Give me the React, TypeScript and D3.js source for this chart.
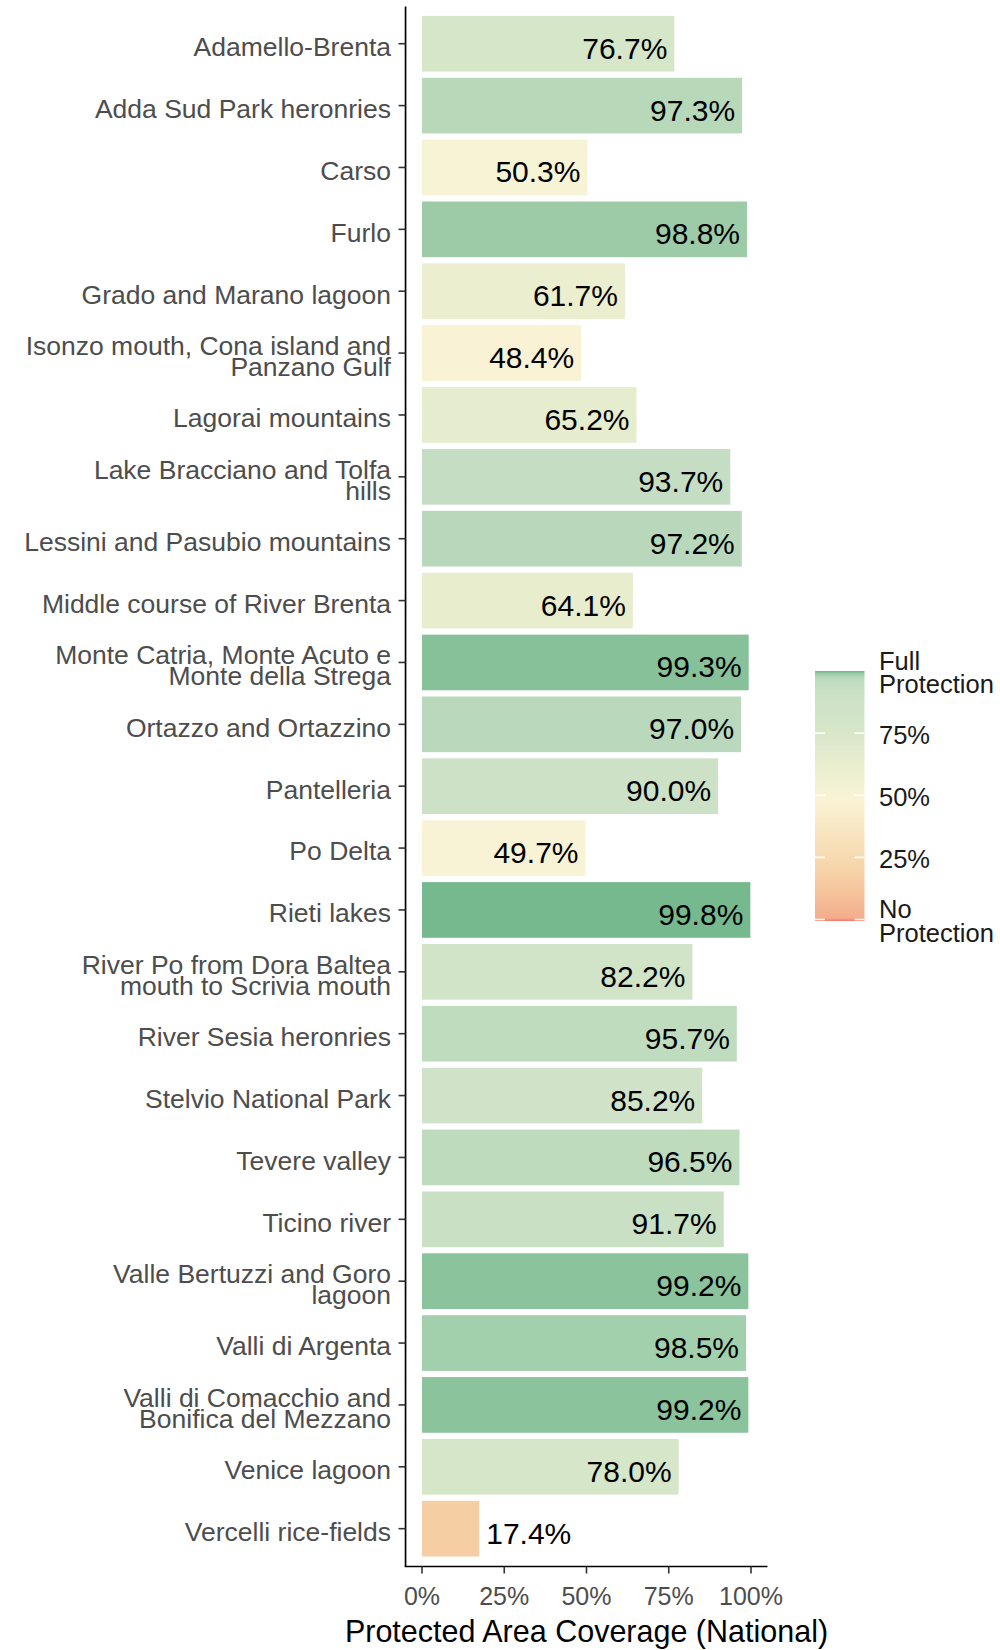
import React from "react";
import * as d3 from "d3";

const categories: string[] = [
  "Adamello-Brenta",
  "Adda Sud Park heronries",
  "Carso",
  "Furlo",
  "Grado and Marano lagoon",
  "Isonzo mouth, Cona island and\nPanzano Gulf",
  "Lagorai mountains",
  "Lake Bracciano and Tolfa\nhills",
  "Lessini and Pasubio mountains",
  "Middle course of River Brenta",
  "Monte Catria, Monte Acuto e\nMonte della Strega",
  "Ortazzo and Ortazzino",
  "Pantelleria",
  "Po Delta",
  "Rieti lakes",
  "River Po from Dora Baltea\nmouth to Scrivia mouth",
  "River Sesia heronries",
  "Stelvio National Park",
  "Tevere valley",
  "Ticino river",
  "Valle Bertuzzi and Goro\nlagoon",
  "Valli di Argenta",
  "Valli di Comacchio and\nBonifica del Mezzano",
  "Venice lagoon",
  "Vercelli rice-fields",
];

const coverage: number[] = [
  0.767, 0.973, 0.503, 0.988, 0.617, 0.484, 0.652, 0.937, 0.972, 0.641,
  0.993, 0.97, 0.9, 0.497, 0.998, 0.822, 0.957, 0.852, 0.965, 0.917,
  0.992, 0.985, 0.992, 0.78, 0.174,
];

const xTicks: number[] = [0, 0.25, 0.5, 0.75, 1];
const legendTicks: number[] = [0, 0.25, 0.5, 0.75, 1];
const legendLabels: string[] = ["No\nProtection", "25%", "50%", "75%", "Full\nProtection"];

const colorStops: number[] = [0, 0.012, 0.174, 0.25, 0.49, 0.5, 0.62, 0.65, 0.767, 0.85, 0.9, 0.937, 0.965, 0.973, 0.985, 0.988, 0.992, 0.998, 1.0];
const colorRange: string[] = [
  "#F8766D", "#F4AD8C", "#F5CFA3", "#F7D9B1", "#F9F3D5", "#F7F3D5", "#EBEECF", "#E6ECCE", "#D6E6C9",
  "#D0E3C8", "#CCE1C6", "#C5DEC3", "#BEDBBE", "#B8D8BA", "#A3D0AC", "#9DCBA8", "#8AC39C", "#77B98F", "#5AAA76",
];

const FONT = "'Liberation Sans', Arial, Helvetica, sans-serif";

export default function App() {
  const W = 1000;
  const H = 1650;

  const x = d3.scaleLinear().domain([-0.05, 1.05]).range([405.55, 767.45]);
  const y = d3
    .scaleBand<string>()
    .domain(categories)
    .range([6.6, 1565.8])
    .paddingInner(0.1)
    .paddingOuter(0.15);
  const color = d3.scaleLinear<string>().domain(colorStops).range(colorRange).interpolate(d3.interpolateRgb);
  const fmt = d3.format(".1%");

  const axisX = x.range()[0];
  const axisY = y.range()[1] + 0.7;
  const band = y.bandwidth();

  // legend
  const legY = d3.scaleLinear().domain([0, 1]).range([919.5, 671]);
  const legX0 = 815;
  const legW = 49.5;
  const gradStops = d3.range(0, 401).map((i) => i / 400);

  const lineH = 21;

  return (
    <svg
      width={W}
      height={H}
      viewBox={`0 0 ${W} ${H}`}
      style={{ position: "absolute", left: 0, top: 0, display: "block", background: "#fff" }}
      fontFamily={FONT}
    >
      <defs>
        <linearGradient id="legGrad" x1="0" y1="1" x2="0" y2="0">
          {gradStops.map((t) => (
            <stop key={t} offset={t} stopColor={color(t)} />
          ))}
        </linearGradient>
      </defs>
      <rect x={0} y={0} width={W} height={H} fill="#ffffff" />

      {/* bars */}
      {categories.map((c, i) => (
        <rect
          key={c}
          x={x(0)}
          y={y(c)!}
          width={x(coverage[i]) - x(0)}
          height={band}
          fill={color(coverage[i])}
        />
      ))}

      {/* value labels */}
      {categories.map((c, i) => {
        const v = coverage[i];
        const cy = y(c)! + band / 2;
        const inside = v >= 0.3;
        return (
          <text
            key={"v" + c}
            x={inside ? x(v) - 7 : x(v) + 7}
            y={cy + 15}
            textAnchor={inside ? "end" : "start"}
            fontSize={30}
            fill="#000000"
          >
            {fmt(v)}
          </text>
        );
      })}

      {/* y axis */}
      <line x1={axisX} x2={axisX} y1={y.range()[0]} y2={axisY} stroke="#000" strokeWidth={1.7} />
      {categories.map((c) => {
        const cy = y(c)! + band / 2;
        const lines = c.split("\n");
        const n = lines.length;
        return (
          <g key={"t" + c}>
            <line x1={axisX - 7} x2={axisX} y1={cy} y2={cy} stroke="#333333" strokeWidth={1.6} />
            <text textAnchor="end" fontSize={26.5} fill="#4D4D4D">
              {lines.map((ln, k) => (
                <tspan key={k} x={391} y={cy + 12.4 + (k - (n - 1) / 2) * lineH}>
                  {ln}
                </tspan>
              ))}
            </text>
          </g>
        );
      })}

      {/* x axis */}
      <line x1={axisX - 0.8} x2={x.range()[1]} y1={axisY} y2={axisY} stroke="#000" strokeWidth={1.7} />
      {xTicks.map((t) => (
        <g key={"x" + t}>
          <line x1={x(t)} x2={x(t)} y1={axisY} y2={axisY + 7} stroke="#333333" strokeWidth={1.6} />
          <text x={x(t)} y={1605} textAnchor="middle" fontSize={25} fill="#4D4D4D">
            {d3.format(".0%")(t)}
          </text>
        </g>
      ))}
      <text x={(x.range()[0] + x.range()[1]) / 2} y={1641.5} textAnchor="middle" fontSize={30.5} fill="#000">
        Protected Area Coverage (National)
      </text>

      {/* legend */}
      <rect x={legX0} y={legY(1)} width={legW} height={legY(0) - legY(1) + 1.5} fill="url(#legGrad)" />
      {legendTicks
        .filter((t) => t < 1)
        .map((t) => (
          <g key={"lt" + t}>
            <line x1={legX0} x2={legX0 + legW / 5} y1={legY(t)} y2={legY(t)} stroke="#ffffff" strokeWidth={1.6} />
            <line x1={legX0 + legW - legW / 5} x2={legX0 + legW} y1={legY(t)} y2={legY(t)} stroke="#ffffff" strokeWidth={1.6} />
          </g>
        ))}
      {legendTicks.map((t, i) => {
        const lines = legendLabels[i].split("\n");
        const n = lines.length;
        return (
          <text key={"ll" + t} fontSize={25.5} fill="#1A1A1A">
            {lines.map((ln, k) => (
              <tspan key={k} x={879} y={legY(t) + 10.5 + (k - (n - 1) / 2) * 23.5}>
                {ln}
              </tspan>
            ))}
          </text>
        );
      })}
    </svg>
  );
}
